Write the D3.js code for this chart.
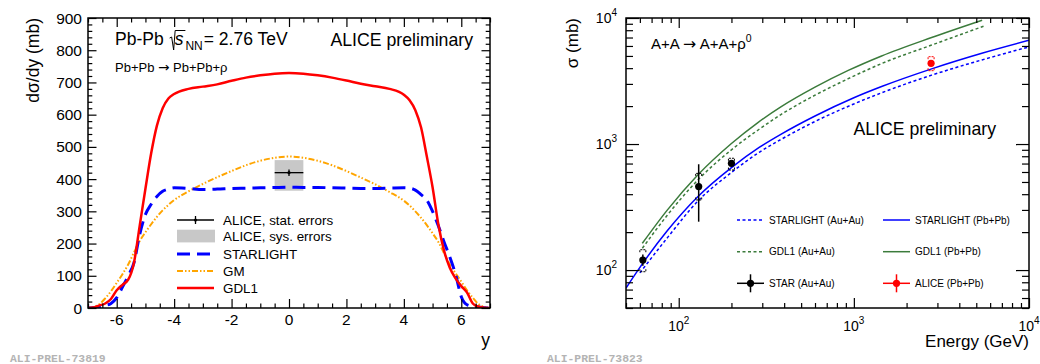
<!DOCTYPE html>
<html>
<head>
<meta charset="utf-8">
<script src="https://cdn.jsdelivr.net/npm/d3@7"></script>
<style>
  body { margin: 0; background: #fff; }
  svg text { font-family: "Liberation Sans", Arial, Helvetica, sans-serif; fill: #000; }
</style>
</head>
<body>
<svg id="chart" width="1040" height="364"></svg>
<script>
// ---- left panel: dsigma/dy vs rapidity ----
const rapidity = [-7,-6.8,-6.6,-6.4,-6.2,-6,-5.8,-5.6,-5.4,-5.2,-5,-4.8,-4.6,-4.4,-4.2,-4,-3.5,-3,-2.5,-2,-1.5,-1,-0.5,0,
                  0.5,1,1.5,2,2.5,3,3.5,4,4.2,4.4,4.6,4.8,5,5.2,5.4,5.6,5.8,6,6.2,6.4,6.6,6.8,7];
const gdl1 = [0,2,8,14,28,55,72,88,140,255,370,480,566,620,650,664,680,687,694,705,715,722,727,729,
              727,722,715,706,696,688,680,662,645,614,560,470,375,260,178,125,92,68,48,14,4,1,0];
const starlight = [0,1,3,8,14,32,65,100,140,228,290,322,346,362,369,373,371,368,369,371,372,373,374,375,
                   374,374,373,372,371,371,372,373,372,366,352,335,300,255,205,158,105,35,10,5,3,1,0];
const gm = [0,3,12,30,52,78,105,135,172,208,235,260,283,303,320,335,362,385,406,425,443,457,466,470,
            466,457,443,425,405,384,360,333,318,300,280,257,232,205,170,135,108,82,55,32,12,3,0];

// ALICE measurement at mid rapidity
const alicePoint = { y: 0, yErr: 0.5, value: 420, stat: 10, sysLo: 364, sysHi: 459 };
const leftLegend = ['ALICE, stat. errors', 'ALICE, sys. errors', 'STARLIGHT', 'GM', 'GDL1'];

// ---- right panel: sigma vs energy ----
const starlightPbE = [50,62,86,128,200,288,385,600,1000,1440,2780,5380,10000];
const starlightPb  = [72,112,205,380,650,940,1200,1670,2330,2860,3950,5250,6650];
const starlightAuE = [60,86,128,200,288,385,600,1000,1440,2780,5380,10000];
const starlightAu  = [95,180,350,595,860,1090,1510,2080,2550,3520,4650,5900];
const gdl1PbE = [62,86,128,200,282,385,600,929,1440,2780,5400];
const gdl1Pb  = [163,299,565,1010,1474,1980,2826,3838,5000,7000,9600];
const gdl1AuE = [62,86,128,200,288,385,600,929,1440,2780,5500];
const gdl1Au  = [149,272,515,900,1310,1720,2440,3300,4350,6100,8600];

const starE      = [62.4, 130, 200];
const starSigma  = [120, 460, 703];
const starStatLo = [108, 242, 680];
const starStatHi = [133, 691, 728];
const starSysLo  = [97, 360, 622];
const starSysHi  = [145, 585, 771];

const aliceE      = [2760];
const aliceSigma  = [4370];
const aliceStatLo = [4250];
const aliceStatHi = [4500];
const aliceSysLo  = [3820];
const aliceSysHi  = [4930];

const rightLegend = ['STARLIGHT (Au+Au)', 'STARLIGHT (Pb+Pb)', 'GDL1 (Au+Au)', 'GDL1 (Pb+Pb)', 'STAR (Au+Au)', 'ALICE (Pb+Pb)'];
const decadeLabels = [2, 3, 4];

const svg = d3.select('#chart');
const GREEN = '#3b7b3b';
const ORANGE = '#ffa500';

// draws inward pointing ticks on all four sides, ROOT style
function frameTicks(g, x, y, xMajor, xMinor, yMajor, yMinor, xLen, yLen) {
    const [x0, x1] = x.range();
    const [y1, y0] = y.range();
    const sides = [
        [d3.axisBottom, x, `translate(0,${y1})`, xMajor, xMinor, xLen],
        [d3.axisTop, x, `translate(0,${y0})`, xMajor, xMinor, xLen],
        [d3.axisLeft, y, `translate(${x0},0)`, yMajor, yMinor, yLen],
        [d3.axisRight, y, `translate(${x1},0)`, yMajor, yMinor, yLen]
    ];
    sides.forEach(([fn, sc, tr, major, minor, len]) => {
        [[major, len[0]], [minor, len[1]]].forEach(([vals, size]) => {
            g.append('g')
                .attr('transform', tr)
                .call(fn(sc).tickValues(vals).tickSize(-size).tickFormat(''))
                .call(s => s.select('.domain').remove())
                .call(s => s.selectAll('line').attr('stroke', '#000').attr('stroke-width', 1.2));
        });
    });
    g.append('rect')
        .attr('x', x0).attr('y', y0)
        .attr('width', x1 - x0).attr('height', y1 - y0)
        .attr('fill', 'none').attr('stroke', '#000').attr('stroke-width', 1.5);
}

// ================= left panel =================
const xL = d3.scaleLinear().domain([-7, 7]).range([88, 490]);
const yL = d3.scaleLinear().domain([0, 900]).range([308, 18]);
const left = svg.append('g').attr('class', 'left-panel');

left.append('clipPath').attr('id', 'clipL').append('rect')
    .attr('x', 88).attr('y', 18).attr('width', 402).attr('height', 290);

// systematic box
left.append('rect')
    .attr('x', xL(alicePoint.y - alicePoint.yErr))
    .attr('y', yL(alicePoint.sysHi))
    .attr('width', xL(alicePoint.y + alicePoint.yErr) - xL(alicePoint.y - alicePoint.yErr))
    .attr('height', yL(alicePoint.sysLo) - yL(alicePoint.sysHi))
    .attr('fill', '#c8c8c8');

const lineL = d3.line()
    .x((d, i) => xL(rapidity[i]))
    .y(d => yL(d))
    .curve(d3.curveMonotoneX);

const curves = left.append('g').attr('clip-path', 'url(#clipL)');
curves.append('path').datum(gm).attr('d', lineL)
    .attr('fill', 'none').attr('stroke', ORANGE).attr('stroke-width', 2)
    .attr('stroke-dasharray', '6,2,1.5,2,1.5,2');
curves.append('path').datum(starlight).attr('d', lineL)
    .attr('fill', 'none').attr('stroke', '#0000ff').attr('stroke-width', 3)
    .attr('stroke-dasharray', '13,7');
curves.append('path').datum(gdl1).attr('d', lineL)
    .attr('fill', 'none').attr('stroke', '#ff0000').attr('stroke-width', 2.5);

// stat error bars
const pt = left.append('g').attr('stroke', '#000').attr('stroke-width', 1.3);
pt.append('line')
    .attr('x1', xL(alicePoint.y - alicePoint.yErr)).attr('x2', xL(alicePoint.y + alicePoint.yErr))
    .attr('y1', yL(alicePoint.value)).attr('y2', yL(alicePoint.value));
pt.append('line')
    .attr('x1', xL(alicePoint.y)).attr('x2', xL(alicePoint.y))
    .attr('y1', yL(alicePoint.value - alicePoint.stat)).attr('y2', yL(alicePoint.value + alicePoint.stat));
left.append('circle').attr('cx', xL(alicePoint.y)).attr('cy', yL(alicePoint.value)).attr('r', 1.6).attr('fill', '#000');

frameTicks(left, xL, yL,
    d3.range(-6, 6.01, 2), d3.range(-7, 7.01, 0.5).filter(v => v % 2 !== 0),
    d3.range(0, 901, 100), d3.range(0, 901, 20).filter(v => v % 100 !== 0),
    [9, 4.5], [8.5, 4.3]);

// tick labels
left.append('g').selectAll('text')
    .data(d3.range(-6, 6.01, 2))
    .join('text')
    .attr('x', d => xL(d)).attr('y', 325)
    .attr('text-anchor', 'middle').attr('font-size', 15.5)
    .text(d => d);
left.append('g').selectAll('text')
    .data(d3.range(0, 901, 100))
    .join('text')
    .attr('x', 82).attr('y', d => yL(d) + 5.5)
    .attr('text-anchor', 'end').attr('font-size', 15.5)
    .text(d => d);

left.append('text').attr('x', 490).attr('y', 346).attr('text-anchor', 'end')
    .attr('font-size', 17.5).text('y');
left.append('text').attr('transform', 'translate(39,18) rotate(-90)')
    .attr('text-anchor', 'end').attr('font-size', 17.5).text('dσ/dy (mb)');

// header: Pb-Pb sqrt(s_NN) = 2.76 TeV
const head = left.append('g');
const t1 = head.append('text').attr('x', 115).attr('y', 45).attr('font-size', 17.5).text('Pb-Pb');
let hx = 115 + t1.node().getComputedTextLength() + 6;
const sTxt = head.append('text').attr('x', hx + 5).attr('y', 45).attr('font-size', 17.5)
    .attr('font-style', 'italic').text('s');
const sW = sTxt.node().getComputedTextLength();
head.append('path')
    .attr('d', `M${hx},38 L${hx + 2},37 L${hx + 4},50 L${hx + 5.5},30.5 L${hx + 6 + sW + 1},30.5`)
    .attr('fill', 'none').attr('stroke', '#000').attr('stroke-width', 1);
const nnTxt = head.append('text').attr('x', hx + 6 + sW + 1).attr('y', 50).attr('font-size', 12).text('NN');
hx = hx + 6 + sW + 1 + nnTxt.node().getComputedTextLength();
head.append('text').attr('x', hx + 1).attr('y', 45).attr('font-size', 17.5).text(' = 2.76 TeV');

left.append('text').attr('x', 473).attr('y', 45.5).attr('text-anchor', 'end')
    .attr('font-size', 17.7).text('ALICE preliminary');

// reaction line with a wider arrow glyph
function reaction(g, x, y, size, lhs, rhs, sup) {
    const t = g.append('text').attr('x', x).attr('y', y).attr('font-size', size);
    t.append('tspan').text(lhs + ' ');
    t.append('tspan').style('font-family', '"DejaVu Sans", sans-serif').attr('font-size', size * 1.05).text('→');
    t.append('tspan').text(' ' + rhs);
    if (sup) t.append('tspan').attr('dy', -size * 0.45).attr('font-size', size * 0.7).text(sup);
    return t;
}
reaction(left, 115, 71.5, 13, 'Pb+Pb', 'Pb+Pb+ρ');

// legend
const legY = [220, 236, 254, 271, 288];
const legL = left.append('g');
legL.selectAll('text').data(leftLegend).join('text')
    .attr('x', 223).attr('y', (d, i) => legY[i] + 4.8)
    .attr('font-size', 13.4).text(d => d);
legL.append('line').attr('x1', 177).attr('x2', 214).attr('y1', legY[0]).attr('y2', legY[0])
    .attr('stroke', '#000').attr('stroke-width', 1.3);
legL.append('line').attr('x1', 195.5).attr('x2', 195.5).attr('y1', legY[0] - 4).attr('y2', legY[0] + 4)
    .attr('stroke', '#000').attr('stroke-width', 1.3);
legL.append('circle').attr('cx', 195.5).attr('cy', legY[0]).attr('r', 1.6).attr('fill', '#000');
legL.append('rect').attr('x', 177).attr('y', legY[1] - 6.3).attr('width', 38).attr('height', 12.7).attr('fill', '#c8c8c8');
legL.append('line').attr('x1', 177).attr('x2', 214).attr('y1', legY[2]).attr('y2', legY[2])
    .attr('stroke', '#0000ff').attr('stroke-width', 3).attr('stroke-dasharray', '13,7');
legL.append('line').attr('x1', 177).attr('x2', 214).attr('y1', legY[3]).attr('y2', legY[3])
    .attr('stroke', ORANGE).attr('stroke-width', 2).attr('stroke-dasharray', '6,2,1.5,2,1.5,2');
legL.append('line').attr('x1', 177).attr('x2', 214).attr('y1', legY[4]).attr('y2', legY[4])
    .attr('stroke', '#ff0000').attr('stroke-width', 2.5);

// ================= right panel =================
const xR = d3.scaleLog().domain([50, 10000]).range([626, 1029]);
const yR = d3.scaleLog().domain([50, 10000]).range([308, 18]);
const right = svg.append('g').attr('class', 'right-panel');

right.append('clipPath').attr('id', 'clipR').append('rect')
    .attr('x', 626).attr('y', 18).attr('width', 403).attr('height', 290);

const lineR = (es) => d3.line()
    .x((d, i) => xR(es[i]))
    .y(d => yR(d))
    .curve(d3.curveMonotoneX);

const rc = right.append('g').attr('clip-path', 'url(#clipR)');
rc.append('path').datum(gdl1Au).attr('d', lineR(gdl1AuE))
    .attr('fill', 'none').attr('stroke', GREEN).attr('stroke-width', 1.5).attr('stroke-dasharray', '3,2.5');
rc.append('path').datum(gdl1Pb).attr('d', lineR(gdl1PbE))
    .attr('fill', 'none').attr('stroke', GREEN).attr('stroke-width', 1.5);
rc.append('path').datum(starlightAu).attr('d', lineR(starlightAuE))
    .attr('fill', 'none').attr('stroke', '#0000ff').attr('stroke-width', 1.5).attr('stroke-dasharray', '3,2.5');
rc.append('path').datum(starlightPb).attr('d', lineR(starlightPbE))
    .attr('fill', 'none').attr('stroke', '#0000ff').attr('stroke-width', 1.5);

function drawPoints(g, es, vals, sLo, sHi, yLo, yHi, color) {
    es.forEach((e, i) => {
        const cx = xR(e);
        g.append('line').attr('x1', cx).attr('x2', cx)
            .attr('y1', yR(sLo[i])).attr('y2', yR(sHi[i]))
            .attr('stroke', color).attr('stroke-width', 1.5);
        [[yHi[i], 2.5], [yLo[i], -2.5]].forEach(([v, d]) => {
            const yy = yR(v);
            g.append('path')
                .attr('d', `M${cx - 3},${yy + d} V${yy} H${cx + 3} V${yy + d}`)
                .attr('fill', 'none').attr('stroke', color).attr('stroke-width', 1)
                .attr('stroke-dasharray', '2,1');
        });
        g.append('circle').attr('cx', cx).attr('cy', yR(vals[i])).attr('r', 3.6).attr('fill', color);
    });
}
drawPoints(right, starE, starSigma, starStatLo, starStatHi, starSysLo, starSysHi, '#000');
drawPoints(right, aliceE, aliceSigma, aliceStatLo, aliceStatHi, aliceSysLo, aliceSysHi, '#ff0000');

const logTicks = xR.ticks();
const isDecade = v => Math.abs(Math.log10(v) - Math.round(Math.log10(v))) < 1e-9;
frameTicks(right, xR, yR,
    logTicks.filter(isDecade), logTicks.filter(v => !isDecade(v)),
    yR.ticks().filter(isDecade), yR.ticks().filter(v => !isDecade(v)),
    [10, 5], [13, 7]);

// decade labels
decadeLabels.forEach(p => {
    const tx = right.append('text').attr('x', xR(10 ** p)).attr('y', 331)
        .attr('text-anchor', 'middle').attr('font-size', 14);
    tx.append('tspan').text('10');
    tx.append('tspan').attr('dy', -7).attr('font-size', 10).text(p);
    const ty = right.append('text').attr('x', 617).attr('y', yR(10 ** p) + 5)
        .attr('text-anchor', 'end').attr('font-size', 14);
    ty.append('tspan').text('10');
    ty.append('tspan').attr('dy', -7).attr('font-size', 10).text(p);
});

right.append('text').attr('x', 1029).attr('y', 347).attr('text-anchor', 'end')
    .attr('font-size', 17).text('Energy (GeV)');
right.append('text').attr('transform', 'translate(578,18) rotate(-90)')
    .attr('text-anchor', 'end').attr('font-size', 17).text('σ (mb)');

reaction(right, 651, 49, 15, 'A+A', 'A+A+ρ', '0');

right.append('text').attr('x', 996).attr('y', 134.5).attr('text-anchor', 'end')
    .attr('font-size', 17.7).text('ALICE preliminary');

// legend
const legRY = [220, 251.7, 283.3];
const colX = [737, 883];
const legR = right.append('g');
legR.selectAll('text').data(rightLegend).join('text')
    .attr('x', (d, i) => colX[i % 2] + 32)
    .attr('y', (d, i) => legRY[Math.floor(i / 2)] + 3.6)
    .attr('font-size', 10).text(d => d);
const legStyles = [
    ['#0000ff', '3,2.5'], ['#0000ff', null],
    [GREEN, '3,2.5'], [GREEN, null]
];
legStyles.forEach(([c, dash], i) => {
    const yy = legRY[Math.floor(i / 2)];
    legR.append('line').attr('x1', colX[i % 2]).attr('x2', colX[i % 2] + 27)
        .attr('y1', yy).attr('y2', yy).attr('stroke', c).attr('stroke-width', 1.5)
        .attr('stroke-dasharray', dash);
});
['#000', '#ff0000'].forEach((c, i) => {
    const yy = legRY[2], cx = colX[i] + 13.5;
    legR.append('line').attr('x1', colX[i]).attr('x2', colX[i] + 27).attr('y1', yy).attr('y2', yy)
        .attr('stroke', c).attr('stroke-width', 1.5);
    legR.append('line').attr('x1', cx).attr('x2', cx).attr('y1', yy - 9).attr('y2', yy + 9)
        .attr('stroke', c).attr('stroke-width', 1.5);
    legR.append('circle').attr('cx', cx).attr('cy', yy).attr('r', 3.6).attr('fill', c);
});

// preliminary figure ids
[['ALI-PREL-73819', 10], ['ALI-PREL-73823', 547]].forEach(([t, x]) => {
    svg.append('text').attr('x', x).attr('y', 362)
        .style('font-family', '"Liberation Mono", "DejaVu Sans Mono", monospace')
        .attr('font-weight', 'bold').attr('font-size', 11.4)
        .style('fill', '#b4b4b4').text(t);
});
</script>
</body>
</html>
